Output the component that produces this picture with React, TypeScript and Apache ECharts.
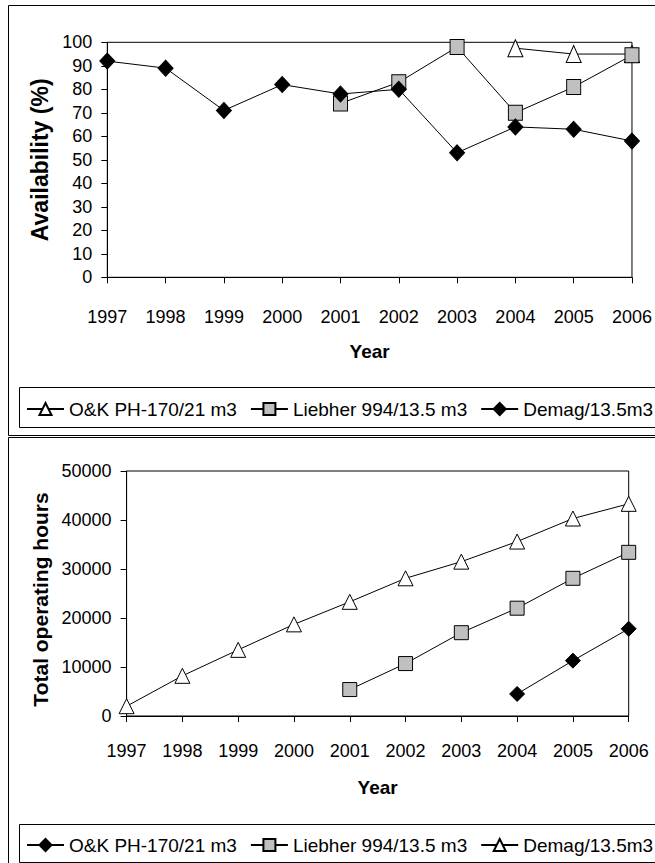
import React, { useEffect, useRef } from "react";
import * as echarts from "echarts";

const years = ["1997", "1998", "1999", "2000", "2001", "2002", "2003", "2004", "2005", "2006"];

// Top chart: availability (%)
const topNames = ["O&K PH-170/21 m3", "Liebher 994/13.5 m3", "Demag/13.5m3"];
const topOK = [null, null, null, null, null, null, null, 97.5, 95, 95];
const topLiebherr = [null, null, null, null, 74, 83, 98, 70, 81, 94.5];
const topDemag = [92, 89, 71, 82, 78, 80, 53, 64, 63, 58];

// Bottom chart: total operating hours
const botNames = ["O&K PH-170/21 m3", "Liebher 994/13.5 m3", "Demag/13.5m3"];
const botOK = [null, null, null, null, null, null, null, 4500, 11300, 17800];
const botLiebherr = [null, null, null, null, 5400, 10700, 17000, 22000, 28100, 33400];
const botDemag = [2000, 8200, 13500, 18700, 23300, 28100, 31500, 35600, 40300, 43300];

const topAxisTitle = "Availability (%)";
const botAxisTitle = "Total operating hours";
const xTitle = "Year";

const PREFIX = "bottom:";
const FONT = "'Liberation Sans', Arial, Helvetica, sans-serif";

export default function App() {
  const ref = useRef<HTMLDivElement>(null);
  useEffect(() => {
    if (!ref.current) return;
    const chart = echarts.init(ref.current, undefined, { renderer: "svg" });

    const lineStyle = { color: "#000", width: 1 };
    const mk = (
      name: string,
      data: (number | null)[],
      symbol: string,
      size: number[],
      fill: string,
      idx: number
    ) => ({
      type: "line",
      name,
      data,
      xAxisIndex: idx,
      yAxisIndex: idx,
      symbol,
      symbolSize: size,
      showSymbol: true,
      showAllSymbol: true,
      connectNulls: false,
      lineStyle,
      itemStyle: { color: fill, borderColor: "#000", borderWidth: 1 },
      emphasis: { disabled: true },
    });

    const xAxisBase = (idx: number, margin: number, nameGap: number) => ({
      type: "category",
      gridIndex: idx,
      data: years,
      boundaryGap: false,
      axisLine: { show: true, lineStyle: { color: "#000", width: 1 } },
      axisTick: { show: true, inside: false, length: 6, lineStyle: { color: "#000" } },
      axisLabel: { interval: 0, margin, color: "#000", fontSize: 18, fontFamily: FONT },
      splitLine: { show: false },
      name: xTitle,
      nameLocation: "middle",
      nameGap,
      nameTextStyle: { color: "#000", fontSize: 19, fontWeight: "bold", fontFamily: FONT },
    });

    const legendBase = (top: number, names: string[]) => ({
      show: true,
      left: 26,
      top,
      width: 900,
      orient: "horizontal",
      padding: 0,
      itemWidth: 37,
      itemHeight: 15,
      itemGap: 13,
      data: names,
      formatter: (n: string) => n.replace(PREFIX, ""),
      textStyle: { color: "#000", fontSize: 19, fontFamily: FONT },
      selectedMode: false,
    });

    const option: any = {
      animation: false,
      backgroundColor: "#fff",
      grid: [
        { left: 107.3, top: 42.3, width: 529.4, height: 235, show: true, borderColor: "#000", borderWidth: 1, backgroundColor: "transparent" },
        { left: 126.6, top: 471, width: 502.1, height: 245, show: true, borderColor: "#000", borderWidth: 1, backgroundColor: "transparent" },
      ],
      xAxis: [xAxisBase(0, 31, 65), xAxisBase(1, 26, 62)],
      yAxis: [
        {
          type: "value",
          gridIndex: 0,
          min: 0,
          max: 100,
          interval: 10,
          axisLine: { show: true, lineStyle: { color: "#000" } },
          axisTick: { show: true, inside: false, length: 6, lineStyle: { color: "#000" } },
          axisLabel: { margin: 15, color: "#000", fontSize: 18, fontFamily: FONT },
          splitLine: { show: false },
          name: topAxisTitle,
          nameLocation: "middle",
          nameGap: 52,
          nameTextStyle: { color: "#000", fontSize: 23, fontWeight: "bold", fontFamily: FONT },
        },
        {
          type: "value",
          gridIndex: 1,
          min: 0,
          max: 50000,
          interval: 10000,
          axisLine: { show: true, lineStyle: { color: "#000" } },
          axisTick: { show: true, inside: false, length: 6, lineStyle: { color: "#000" } },
          axisLabel: { margin: 15, color: "#000", fontSize: 18, fontFamily: FONT, formatter: (v: number) => String(v) },
          splitLine: { show: false },
          name: botAxisTitle,
          nameLocation: "middle",
          nameGap: 72,
          nameTextStyle: { color: "#000", fontSize: 21, fontWeight: "bold", fontFamily: FONT, padding: [0, 12, 0, 0] },
        },
      ],
      legend: [
        legendBase(399.5, topNames),
        legendBase(835.5, botNames.map((n) => PREFIX + n)),
      ],
      graphic: [
        { type: "rect", shape: { x: 8.5, y: 5.5, width: 700, height: 430 }, style: { fill: "none", stroke: "#000", lineWidth: 1 }, silent: true },
        { type: "rect", shape: { x: 8.5, y: 437.5, width: 700, height: 500 }, style: { fill: "none", stroke: "#000", lineWidth: 1 }, silent: true },
        { type: "rect", shape: { x: 19.5, y: 387.5, width: 700, height: 40 }, style: { fill: "none", stroke: "#000", lineWidth: 1 }, silent: true },
        { type: "rect", shape: { x: 19.5, y: 824.5, width: 700, height: 38 }, style: { fill: "none", stroke: "#000", lineWidth: 1 }, silent: true },
      ],
      series: [
        mk(topNames[0], topOK, "triangle", [15, 17], "#fff", 0),
        mk(topNames[1], topLiebherr, "rect", [14, 15], "#C0C0C0", 0),
        mk(topNames[2], topDemag, "diamond", [15, 16], "#000", 0),
        mk(PREFIX + botNames[0], botOK, "diamond", [15, 15], "#000", 1),
        mk(PREFIX + botNames[1], botLiebherr, "rect", [14, 14], "#C0C0C0", 1),
        mk(PREFIX + botNames[2], botDemag, "triangle", [15, 15], "#fff", 1),
      ],
    };
    chart.setOption(option);
    return () => chart.dispose();
  }, []);

  return (
    <div
      ref={ref}
      style={{ position: "fixed", left: 0, top: 0, width: 655, height: 863, background: "#fff" }}
    />
  );
}
